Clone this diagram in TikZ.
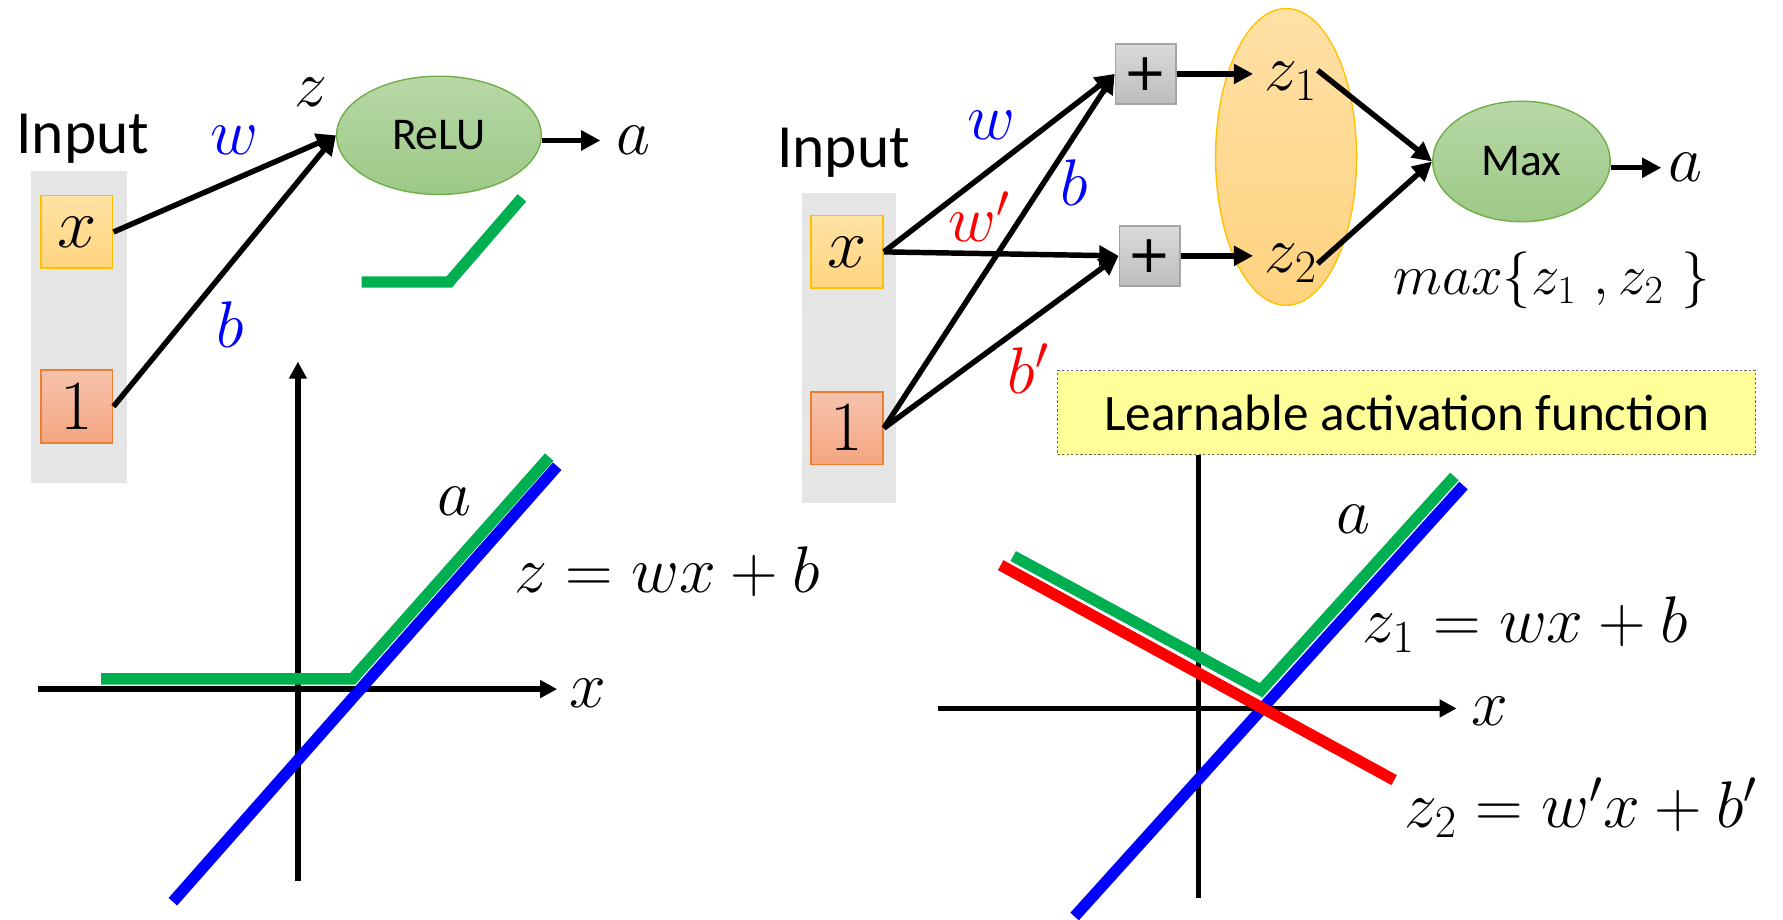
\RequirePackage{fix-cm}
\documentclass[tikz,border=0pt]{standalone}
\usepackage{fontspec}
\newfontfamily\calibri{Carlito}
\newfontfamily\dejavu{DejaVu Sans}
\usetikzlibrary{arrows.meta,shapes.geometric}
\definecolor{panelgray}{HTML}{E5E5E5}
\definecolor{xtop}{HTML}{FFE2A3}
\definecolor{xbot}{HTML}{FFD47F}
\definecolor{xborder}{HTML}{FFC000}
\definecolor{otop}{HTML}{F6C3AC}
\definecolor{obot}{HTML}{F4A581}
\definecolor{oborder}{HTML}{ED7D31}
\definecolor{gtop}{HTML}{B8D8A6}
\definecolor{gbot}{HTML}{9CC987}
\definecolor{gborder}{HTML}{70AD47}
\definecolor{ptop}{HTML}{DADADA}
\definecolor{pbot}{HTML}{BDBDBD}
\definecolor{pborder}{HTML}{A5A5A5}
\definecolor{eltop}{HTML}{FFE0A6}
\definecolor{elbot}{HTML}{FFD37F}
\definecolor{yellowbox}{HTML}{FFFF99}
\definecolor{lineblue}{HTML}{0000FF}
\definecolor{linegreen}{HTML}{00B050}
\definecolor{linered}{HTML}{FF0000}
\newcommand\mfs{\fontsize{29}{34}\selectfont}
\newcommand\boxfs{\fontsize{31}{36}\selectfont}
\begin{document}
\begin{tikzpicture}[x=0.5pt,y=-0.5pt,
  conn/.style={line width=2.4pt,-{Triangle[length=8.5pt,width=8.5pt]}},
  axisline/.style={line width=2.5pt,-{Triangle[length=7.5pt,width=7.5pt]}},
  fat/.style={line width=5pt,line cap=butt,line join=miter},
  lbl/.style={anchor=base west,inner sep=0pt,font=\mfs},
  panel/.style={fill=panelgray,draw=none,inner sep=0pt},
  xbox/.style={rectangle,top color=xtop,bottom color=xbot,draw=xborder,line width=0.8pt,inner sep=0pt,minimum width=31.5pt,minimum height=32pt,font=\boxfs},
  onebox/.style={rectangle,top color=otop,bottom color=obot,draw=oborder,line width=0.8pt,inner sep=0pt,minimum width=31.5pt,minimum height=32pt,font=\boxfs},
  plusbox/.style={rectangle,top color=ptop,bottom color=pbot,draw=pborder,line width=0.8pt,inner sep=0pt,minimum width=26.5pt,minimum height=26.5pt,font=\dejavu\fontsize{23}{26}\selectfont},
  greenell/.style={ellipse,top color=gtop,bottom color=gbot,draw=gborder,line width=0.6pt,inner sep=0pt,font=\calibri\fontsize{20}{24}\selectfont},
  inlbl/.style={anchor=base west,inner sep=0pt,font=\calibri\fontsize{27}{32}\selectfont}
]
\useasboundingbox (0,0) rectangle (1568,809);

% ---------------- left network ----------------
\node[inlbl] (inputL) at (14,135) {Input};
\node[panel,minimum width=42.5pt,minimum height=137.5pt] (panelL) at (69.5,287.5) {};
\node[xbox] (xL) at (67.5,204) {$x$};
\node[onebox] (oneL) at (67.5,357.5) {$1$};
\node[greenell,minimum width=90pt,minimum height=52pt] (relu) at (386,119) {ReLU};
\node[lbl] (zL) at (259,94) {$z$};
\node[lbl,text=lineblue] (wL) at (185,136) {$w$};
\node[lbl,text=lineblue] (bL) at (190,306) {$b$};
\node[lbl] (aL) at (542,136) {$a$};
\draw[conn] (xL.east) -- (relu.west);
\draw[conn] (oneL.east) -- (relu.west);
\draw[conn,shorten >=7pt] (relu.east |- aL.west) -- (aL.west);
\draw[fat,linegreen] (318,248) -- (395,248) -- (459,174);

% ---------------- left plot ----------------
\draw[axisline] (33,606) -- (490,606);
\draw[axisline] (262,775) -- (262,318);
\draw[fat,lineblue] (152,793) -- (490,410);
\draw[fat,linegreen] (89,597) -- (310,597) -- (483,402);
\node[lbl] (aP) at (384,453) {$a$};
\node[lbl] (xP) at (500,622) {$x$};
\node[lbl] (eqL) at (452,521) {$z=wx+b$};

% ---------------- right plot (axes under the box) ----------------
\draw[axisline] (825,623) -- (1281,623);
\draw[line width=2.5pt] (1054,790) -- (1054,398);
\draw[fat,lineblue] (945,806) -- (1287,427);
\draw[fat,linered] (880,497) -- (1226,686);
\draw[fat,linegreen] (891,489) -- (1109,607) -- (1279,419);
\node[lbl] (aP2) at (1175,469) {$a$};
\node[lbl] (xP2) at (1294,638) {$x$};
\node[lbl] (eq1) at (1198,565) {$z_1=wx+b$};
\node[lbl] (eq2) at (1235,728) {$z_2=w'x+b'$};

% ---------------- right network ----------------
\node[inlbl] (inputR) at (683,147) {Input};
\node[panel,minimum width=41.5pt,minimum height=136pt] (panelR) at (746.5,306) {};
\node[xbox] (xR) at (745,221.5) {$x$};
\node[onebox] (oneR) at (745,376.5) {$1$};
\node[plusbox] (plus1) at (1007.5,65) {+};
\node[plusbox] (plus2) at (1011,225) {+};
\node[ellipse,top color=eltop,bottom color=elbot,draw=xborder,line width=0.6pt,minimum width=62pt,minimum height=130.5pt,inner sep=0pt] (zell) at (1131,138) {};
\node[lbl] (z1) at (1112,80) {$z_1$};
\node[lbl] (z2) at (1112,240) {$z_2$};
\node[greenell,minimum width=78pt,minimum height=53pt] (maxn) at (1338,142) {Max};
\node[lbl] (aR) at (1467,160) {$a$};
\node[lbl,font=\fontsize{25}{30}\selectfont] (maxz) at (1225,259) {$max\{z_1\ ,z_2\ \}$};
\node[lbl,text=lineblue] (wR) at (850,123) {$w$};
\node[lbl,text=lineblue] (bR) at (932,181) {$b$};
\node[lbl,text=linered] (wpR) at (834,212) {$w'$};
\node[lbl,text=linered] (bpR) at (886,346) {$b'$};
\draw[conn] (xR.east) -- (plus1.west);
\draw[conn] (xR.east) -- (plus2.west);
\draw[conn] (oneR.east) -- (plus1.west);
\draw[conn] (oneR.east) -- (plus2.west);
\draw[conn,shorten >=5pt] (plus1.east) -- (plus1.east -| z1.west);
\draw[conn,shorten >=5pt] (plus2.east) -- (plus2.east -| z2.west);
\draw[conn] ([yshift=5pt]z1.east) -- (maxn.west);
\draw[conn] (z2.east) -- (maxn.west);
\draw[conn,shorten >=3pt] (maxn.east |- aR.west) -- (aR.west);

\node[rectangle,fill=yellowbox,draw=black!60,line width=0.5pt,dash pattern=on 1pt off 1pt,minimum width=307pt,minimum height=37pt,inner sep=0pt,font=\calibri\fontsize{22.5}{27}\selectfont] (learn) at (1237,363) {Learnable activation function};
\end{tikzpicture}
\end{document}
